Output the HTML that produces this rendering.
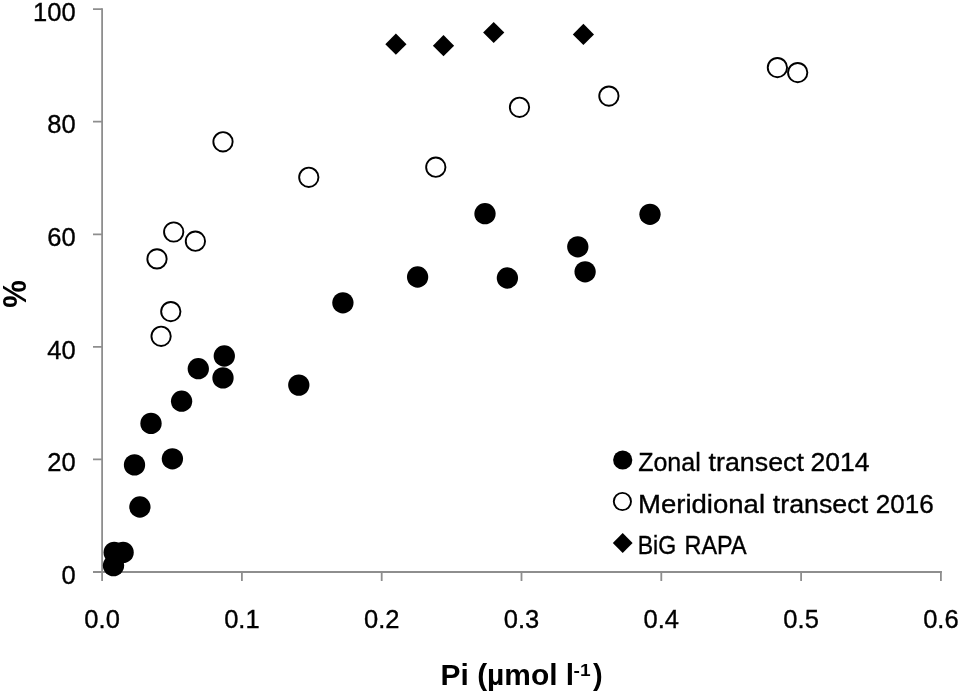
<!DOCTYPE html>
<html lang="en">
<head>
<meta charset="utf-8">
<title>Pi vs % scatter</title>
<style>
html,body{margin:0;padding:0;background:#fff;}
body{width:961px;height:694px;overflow:hidden;}
svg{display:block;}
text{font-family:"Liberation Sans",sans-serif;fill:#000;}
.ax{stroke:#8e8e8e;stroke-width:1.8;fill:none;}
.f{fill:#000;}
.o{fill:#fff;stroke:#000;stroke-width:1.9;}
.lbl{font-size:25.5px;stroke:#000;stroke-width:0.35px;}
</style>
</head>
<body>
<svg width="961" height="694" viewBox="0 0 961 694">
<rect width="961" height="694" fill="#fff"/>
<!-- axes -->
<g class="ax">
<path d="M102.1 8.2V581"/>
<path d="M93 572H941.8"/>
<path d="M93 9.1H102.1M93 121.7H102.1M93 234.3H102.1M93 346.8H102.1M93 459.4H102.1"/>
<path d="M241.9 572V581M381.7 572V581M521.5 572V581M661.3 572V581M801.1 572V581M940.9 571.1V581"/>
</g>
<!-- y labels -->
<g class="lbl" text-anchor="end">
<text x="75.6" y="20.8">100</text>
<text x="75.6" y="133.4">80</text>
<text x="75.6" y="246">60</text>
<text x="75.6" y="358.5">40</text>
<text x="75.6" y="471.1">20</text>
<text x="75.6" y="583.7">0</text>
</g>
<!-- x labels -->
<g class="lbl" text-anchor="middle">
<text x="102.1" y="627.5">0.0</text>
<text x="241.9" y="627.5">0.1</text>
<text x="381.7" y="627.5">0.2</text>
<text x="521.5" y="627.5">0.3</text>
<text x="661.3" y="627.5">0.4</text>
<text x="801.1" y="627.5">0.5</text>
<text x="940.9" y="627.5">0.6</text>
</g>
<!-- filled circles -->
<g class="f">
<circle cx="113.5" cy="565.6" r="10.65"/>
<circle cx="114.2" cy="552.4" r="10.65"/>
<circle cx="123.1" cy="552.4" r="10.65"/>
<circle cx="139.9" cy="507" r="10.65"/>
<circle cx="134.5" cy="464.9" r="10.65"/>
<circle cx="172.4" cy="458.8" r="10.65"/>
<circle cx="151" cy="423.4" r="10.65"/>
<circle cx="181.6" cy="401.2" r="10.65"/>
<circle cx="198.3" cy="368.7" r="10.65"/>
<circle cx="224.3" cy="356" r="10.65"/>
<circle cx="223" cy="377.9" r="10.65"/>
<circle cx="298.8" cy="385.1" r="10.65"/>
<circle cx="342.9" cy="302.8" r="10.65"/>
<circle cx="417.6" cy="277" r="10.65"/>
<circle cx="485" cy="213.7" r="10.65"/>
<circle cx="507.4" cy="278" r="10.65"/>
<circle cx="577.8" cy="246.8" r="10.65"/>
<circle cx="585.1" cy="271.8" r="10.65"/>
<circle cx="650" cy="214.3" r="10.65"/>
</g>
<!-- open circles -->
<g class="o">
<circle cx="161.1" cy="336.3" r="9.65"/>
<circle cx="170.8" cy="311.6" r="9.65"/>
<circle cx="157" cy="258.9" r="9.65"/>
<circle cx="173.7" cy="232" r="9.65"/>
<circle cx="195.4" cy="241.2" r="9.65"/>
<circle cx="223" cy="141.8" r="9.65"/>
<circle cx="308.8" cy="177.3" r="9.65"/>
<circle cx="435.8" cy="167.2" r="9.65"/>
<circle cx="519.5" cy="107.3" r="9.65"/>
<circle cx="608.9" cy="96.1" r="9.65"/>
<circle cx="777.4" cy="67.6" r="9.65"/>
<circle cx="797.7" cy="72.6" r="9.65"/>
</g>
<!-- diamonds -->
<g class="f">
<path d="M395.9 33.6l10.6 10.6l-10.6 10.6l-10.6-10.6z"/>
<path d="M443.5 35.1l10.6 10.6l-10.6 10.6l-10.6-10.6z"/>
<path d="M493.7 21.9l10.6 10.6l-10.6 10.6l-10.6-10.6z"/>
<path d="M583.4 23.8l10.6 10.6l-10.6 10.6l-10.6-10.6z"/>
</g>
<!-- legend -->
<circle class="f" cx="622.7" cy="460" r="9.6"/>
<circle class="o" cx="622.4" cy="501.5" r="8.6"/>
<path class="f" d="M622.7 532.9l9.9 10l-9.9 10l-9.9-10z"/>
<g class="lbl">
<text y="471.1"><tspan x="638.2" textLength="62.5" lengthAdjust="spacingAndGlyphs">Zonal</tspan> <tspan x="708.6" textLength="95.3" lengthAdjust="spacingAndGlyphs">transect</tspan> <tspan x="810.5" textLength="59" lengthAdjust="spacingAndGlyphs">2014</tspan></text>
<text y="512.8"><tspan x="638" textLength="127" lengthAdjust="spacingAndGlyphs">Meridional</tspan> <tspan x="772.8" textLength="95.3" lengthAdjust="spacingAndGlyphs">transect</tspan> <tspan x="875.7" textLength="58" lengthAdjust="spacingAndGlyphs">2016</tspan></text>
<text y="554"><tspan x="637.7" textLength="38.5" lengthAdjust="spacingAndGlyphs">BiG</tspan> <tspan x="684.5" textLength="62" lengthAdjust="spacingAndGlyphs">RAPA</tspan></text>
</g>
<!-- axis titles -->
<g font-weight="bold">
<text x="440.6" y="685.2" font-size="29px"><tspan x="440.6" textLength="133.5" lengthAdjust="spacingAndGlyphs">Pi (µmol l</tspan><tspan x="573.6" dy="-9" font-size="17px" textLength="17" lengthAdjust="spacingAndGlyphs">-1</tspan><tspan x="593" dy="9">)</tspan></text>
<text transform="translate(26.1 294) rotate(-90) scale(0.94 1)" text-anchor="middle" font-size="33px">%</text>
</g>
</svg>
</body>
</html>
